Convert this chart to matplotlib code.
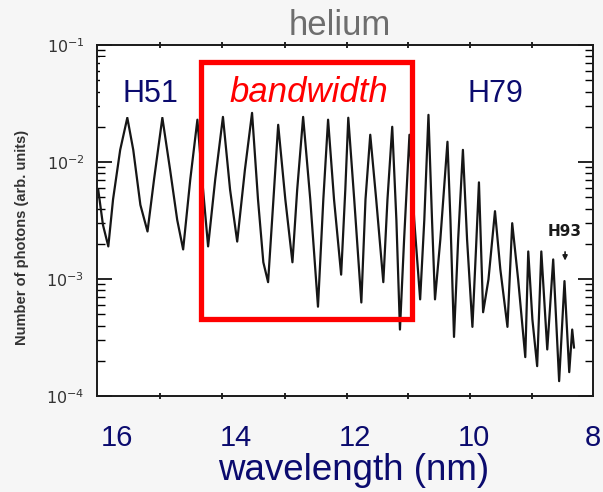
import matplotlib
matplotlib.use('Agg')
import matplotlib.pyplot as plt
from matplotlib.patches import Rectangle

plt.rcParams['font.family'] = ['Liberation Sans', 'DejaVu Sans']

# harmonic spectrum in helium (peaks / valleys)
wavelength = [16.32, 16.24, 16.15, 16.07, 15.95, 15.83, 15.73, 15.61, 15.49, 15.38,
              15.24, 15.11, 14.99, 14.89, 14.77, 14.65, 14.57, 14.47, 14.35, 14.22,
              14.10, 13.98, 13.85, 13.73, 13.63, 13.54, 13.46, 13.37, 13.29, 13.17,
              13.05, 12.97, 12.87, 12.75, 12.62, 12.53, 12.45, 12.35, 12.23, 12.16,
              12.11, 12.01, 11.89, 11.82, 11.74, 11.64, 11.52, 11.45, 11.37, 11.30,
              11.24, 11.17, 11.08, 11.00, 10.90, 10.83, 10.76, 10.70, 10.65, 10.56,
              10.44, 10.39, 10.33, 10.26, 10.18, 10.11, 10.02, 9.96, 9.91, 9.84,
              9.75, 9.64, 9.55, 9.43, 9.35, 9.25, 9.13, 9.08, 9.01, 8.93,
              8.86, 8.76, 8.66, 8.56, 8.47, 8.39, 8.34, 8.31]
photons = [5.8e-3, 2.9e-3, 1.9e-3, 4.8e-3, 1.27e-2, 2.39e-2, 1.27e-2, 4.3e-3, 2.55e-3, 7.1e-3,
           2.39e-2, 8.6e-3, 3.2e-3, 1.79e-3, 7.1e-3, 2.30e-2, 7.1e-3, 1.90e-3, 7.1e-3, 2.43e-2,
           5.8e-3, 2.09e-3, 8.6e-3, 2.63e-2, 4.8e-3, 1.39e-3, 9.4e-4, 4.8e-3, 2.08e-2, 4.8e-3,
           1.39e-3, 5.8e-3, 2.43e-2, 4.8e-3, 5.8e-4, 4.8e-3, 2.30e-2, 4.8e-3, 1.09e-3, 5.8e-3,
           2.39e-2, 4.8e-3, 6.3e-4, 4.8e-3, 1.71e-2, 4.8e-3, 9.4e-4, 4.8e-3, 2.00e-2, 3.2e-3,
           3.7e-4, 2.18e-3, 1.71e-2, 3.2e-3, 6.7e-4, 3.2e-3, 2.53e-2, 3.2e-3, 6.7e-4, 2.18e-3,
           1.49e-2, 3.2e-3, 3.2e-4, 2.18e-3, 1.27e-2, 2.18e-3, 3.9e-4, 1.79e-3, 6.7e-3, 5.2e-4,
           9.9e-4, 3.8e-3, 1.21e-3, 3.9e-4, 3.0e-3, 9.9e-4, 2.15e-4, 1.72e-3, 4.5e-4, 1.80e-4,
           1.72e-3, 2.5e-4, 1.47e-3, 1.34e-4, 9.6e-4, 1.60e-4, 3.7e-4, 2.6e-4]

xtick_labels = [16, 14, 12, 10, 8]
ytick_values = [1e-4, 1e-3, 1e-2, 1e-1]
band = (14.59, 11.03)        # bandwidth box limits (nm)
band_y = (4.53e-4, 0.0710)   # bandwidth box bottom / top
h93 = (8.46, 2.55e-3)        # H93 marker label

navy = '#0b0b6e'

fig = plt.figure(figsize=(6.03, 4.92), dpi=100, facecolor='#f6f6f6')
ax = fig.add_axes([0.1609, 0.1951, 0.8225, 0.7134])
ax.set_facecolor('white')

ax.plot(wavelength, photons, color='#161616', lw=1.6, zorder=2)

ax.set_yscale('log')
ax.set_ylim(1e-4, 1e-1)
ax.set_xlim(16.34, 7.99)

# wavelength labels overlaid on the scan
ax.set_xticks(xtick_labels)
ax.set_xticklabels([str(v) for v in xtick_labels])
ax.tick_params(axis='x', which='major', length=0, pad=20, labelsize=21, labelcolor=navy)
ax.set_xticks([15.28, 14.23, 13.17, 12.13, 11.10, 10.06, 9.01], minor=True)
ax.tick_params(axis='x', which='minor', direction='inout', length=5, width=1.2,
               top=True, bottom=True)

ax.set_yticks(ytick_values)
ax.set_yticklabels([r'$10^{-4}$', r'$10^{-3}$', r'$10^{-2}$', r'$10^{-1}$'])
ax.tick_params(axis='y', which='major', direction='in', length=11, width=1.2,
               left=True, right=True, labelsize=11.5, labelcolor='#333333', pad=9)
ax.tick_params(axis='y', which='minor', direction='in', length=6, width=1.0,
               left=True, right=True)

for s in ax.spines.values():
    s.set_linewidth(1.4)
    s.set_color('#1a1a1a')

fig.text(22 / 603, 1 - 237 / 492, 'Number of photons (arb. units)', rotation=90,
         ha='center', va='center', fontsize=10.5, fontweight='bold', color='#333333')

fig.text(340 / 603, 1 - 35 / 492, 'helium', ha='center', va='baseline',
         fontsize=25, color='#6e6e6e')
fig.text(354 / 603, 1 - 480 / 492, 'wavelength (nm)', ha='center', va='baseline',
         fontsize=26.5, color=navy)

# white label patches pasted over the scan
ax.add_patch(Rectangle((0.006, 0.795), 0.1915, 0.17, transform=ax.transAxes,
                       facecolor='white', edgecolor='none', zorder=3))
ax.add_patch(Rectangle((0.7056, 0.795), 0.264, 0.17, transform=ax.transAxes,
                       facecolor='white', edgecolor='none', zorder=3))

fig.text(150 / 603, 1 - 102 / 492, 'H51', ha='center', va='baseline', fontsize=22,
         color=navy, zorder=5)
fig.text(495 / 603, 1 - 102 / 492, 'H79', ha='center', va='baseline', fontsize=22,
         color=navy, zorder=5)
fig.text(309 / 603, 1 - 102 / 492, 'bandwidth', ha='center', va='baseline',
         fontsize=25, style='italic', color='#ff0000', zorder=5)

ax.add_patch(Rectangle((band[0], band_y[0]), band[1] - band[0], band_y[1] - band_y[0],
                       fill=False, edgecolor='#ff0000', lw=3.8, zorder=4,
                       clip_on=False))

ax.text(h93[0], h93[1], 'H93', ha='center', va='center', fontsize=11,
        fontweight='bold', color='#1a1a1a', family='DejaVu Sans')
ax.annotate('', xy=(h93[0], 1.36e-3), xytext=(h93[0], 1.8e-3),
            arrowprops=dict(arrowstyle='-|>', color='#1a1a1a', lw=1.2,
                            mutation_scale=7))

fig.savefig('out.png', dpi=100, facecolor=fig.get_facecolor())
